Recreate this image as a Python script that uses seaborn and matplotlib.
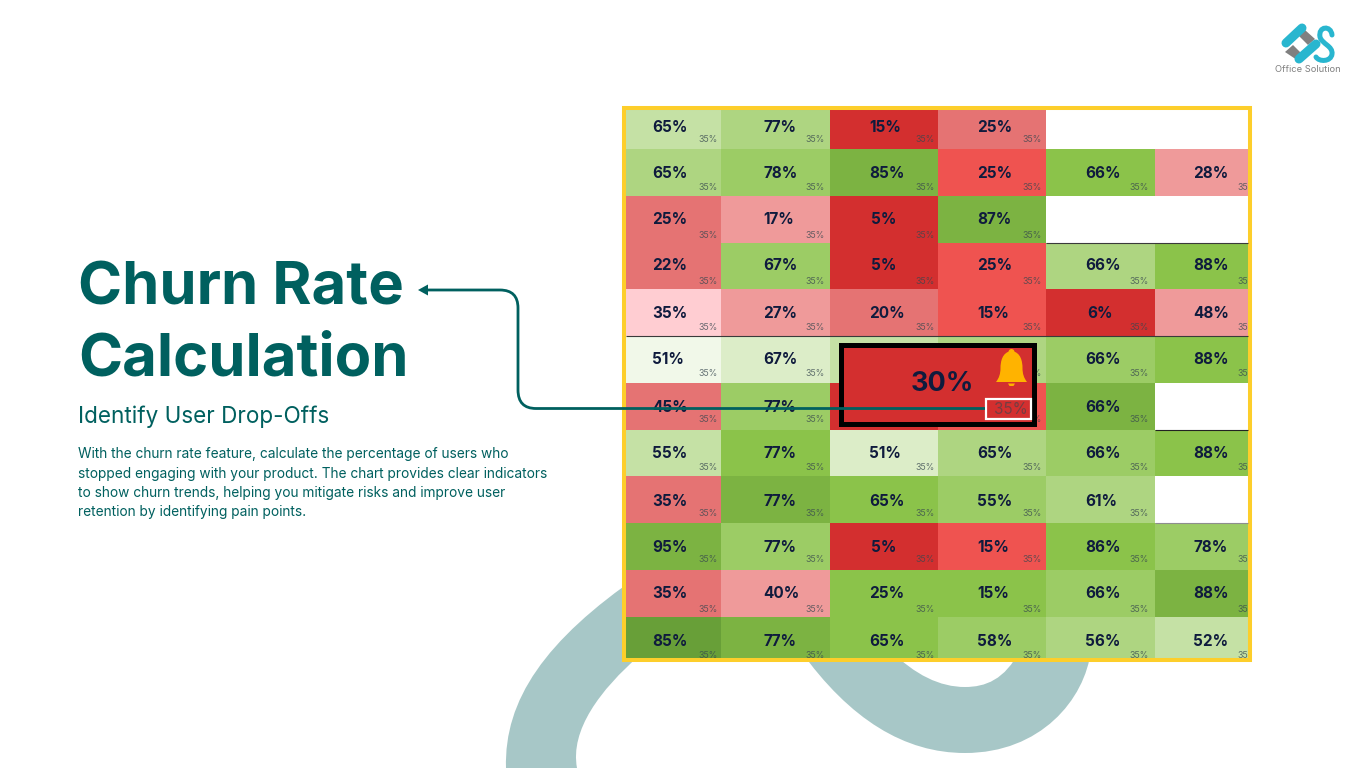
import numpy as np
import matplotlib
matplotlib.use("Agg")
import matplotlib.pyplot as plt
import seaborn as sns
from matplotlib.colors import ListedColormap
from matplotlib.patches import PathPatch, Rectangle, Polygon, Circle
from matplotlib.path import Path

W, H = 1366, 768
nan = np.nan

# Churn value per cell, nan where the cell is blank or hidden by the popup
churn_values = [
    [65, 77, 15, 25, nan, nan],
    [65, 78, 85, 25, 66, 28],
    [25, 17, 5, 87, nan, nan],
    [22, 67, 5, 25, 66, 88],
    [35, 27, 20, 15, 6, 48],
    [51, 67, nan, nan, 66, 88],
    [45, 77, nan, nan, 66, nan],
    [55, 77, 51, 65, 66, 88],
    [35, 77, 65, 55, 61, nan],
    [95, 77, 5, 15, 86, 78],
    [35, 40, 25, 15, 66, 88],
    [85, 77, 65, 58, 56, 52],
]

# Colour level per cell (index into palette), nan = white cell
color_levels = [
    [7, 8, 0, 2, nan, nan],
    [8, 9, 11, 1, 10, 3],
    [2, 3, 0, 11, nan, nan],
    [2, 9, 0, 1, 8, 10],
    [4, 3, 2, 1, 0, 3],
    [5, 6, 7, 8, 9, 10],
    [2, 9, 0, 1, 11, nan],
    [7, 10, 6, 8, 9, 10],
    [2, 11, 10, 9, 8, nan],
    [11, 9, 0, 1, 10, 9],
    [2, 3, 10, 10, 9, 11],
    [12, 11, 10, 9, 8, 7],
]

palette = ["#D32F2F", "#EF5350", "#E57373", "#EF9A9A", "#FFCDD2", "#F1F8E9", "#DCEDC8",
           "#C5E1A5", "#AED581", "#9CCC65", "#8BC34A", "#7CB342", "#689F38"]

small_label = "35%"
popup_value = "30%"
title_lines = ["Churn Rate", "Calculation"]
subtitle = "Identify User Drop-Offs"
body_lines = [
    "With the churn rate feature, calculate the percentage of users who",
    "stopped engaging with your product. The chart provides clear indicators",
    "to show churn trends, helping you mitigate risks and improve user",
    "retention by identifying pain points.",
]

# Pixel layout of the grid
col_edges = [626, 721, 830, 938, 1046, 1155, 1248]
row_edges = [110, 149, 196, 243, 289, 336, 383, 430, 476, 523, 570, 617, 658]
main_x = [652, 763, 869, 977, 1085, 1193]
main_y = [127, 173, 220, 266, 313, 360, 407, 454, 501, 547, 594, 641]
small_x = [698.5, 805.5, 915.5, 1022.5, 1129.5, 1237.5]
small_y = [140, 187, 235, 281, 327, 374, 420, 467, 513, 560, 610, 656]
covered_small = [(5, 2), (6, 2)]  # sit fully under the popup

TEAL = "#00605F"
NAVY = "#0F1B3D"
BLOB = "#A7C7C7"
YELLOW = "#FDCE2B"
LOGO = "#29B6CF"

sns.set_theme(style="white")
plt.rcParams["font.family"] = ["Inter", "DejaVu Sans"]

fig = plt.figure(figsize=(W / 100, H / 100), dpi=100, facecolor="white")


def px_axes(zorder):
    ax = fig.add_axes([0, 0, 1, 1], zorder=zorder)
    ax.set_xlim(0, W)
    ax.set_ylim(H, 0)
    ax.axis("off")
    return ax


def curve(points):
    # first point is a move, then groups of three are cubic beziers
    codes = [Path.MOVETO] + [Path.CURVE4] * (len(points) - 1)
    return Path(points, codes)


# Background ribbon
bg = px_axes(0)
left_ribbon = [(506, 768), (504, 700), (545, 640), (640, 575), (660, 600), (650, 650), (640, 655),
               (600, 690), (570, 730), (577, 768), (550, 768), (530, 768), (506, 768)]
bg.add_patch(PathPatch(curve(left_ribbon), fc=BLOB, ec="none"))
right_ribbon = [(800, 650), (850, 720), (905, 753), (965, 753), (1040, 753), (1085, 700), (1091, 650),
                (1060, 650), (1040, 650), (1020, 650), (1005, 680), (985, 687), (965, 687),
                (940, 687), (915, 675), (890, 650), (860, 650), (830, 650), (800, 650)]
bg.add_patch(PathPatch(curve(right_ribbon), fc=BLOB, ec="none"))

# Heatmap, the cell widths are not equal so both axes go through a piecewise scale
ax = fig.add_axes([col_edges[0] / W, 1 - row_edges[-1] / H,
                   (col_edges[-1] - col_edges[0]) / W, (row_edges[-1] - row_edges[0]) / H], zorder=1)
levels = np.array(color_levels, dtype=float)
sns.heatmap(levels, ax=ax, cmap=ListedColormap(palette), vmin=-0.5, vmax=12.5, cbar=False,
            xticklabels=False, yticklabels=False, linewidths=0)
ax.set_facecolor("white")


def piecewise(edges):
    idx = np.arange(len(edges))
    fwd = lambda v: np.interp(np.ravel(v), idx, edges).reshape(np.shape(v))
    inv = lambda v: np.interp(np.ravel(v), edges, idx).reshape(np.shape(v))
    return fwd, inv


ax.set_xscale("function", functions=piecewise(col_edges))
ax.set_yscale("function", functions=piecewise(row_edges))
ax.set_xlim(0, len(col_edges) - 1)
ax.set_ylim(len(row_edges) - 1, 0)
ax.set_xticks([])
ax.set_yticks([])
ax.minorticks_off()

over = px_axes(3)

# Cell labels, clipped by the heatmap axes
for r, row in enumerate(churn_values):
    for c, val in enumerate(row):
        if np.isnan(levels[r][c]):
            continue
        if not np.isnan(val):
            nudge = 2 if val < 10 else 0
            ax.text(main_x[c] + nudge, main_y[r], f"{val:.0f}%", transform=over.transData, ha="left", va="center",
                    fontsize=11, fontweight="bold", color=NAVY, clip_on=True)
        if (r, c) not in covered_small:
            ax.text(small_x[c], small_y[r], small_label, transform=over.transData, ha="left", va="center",
                    fontsize=6.3, color="#37474F", alpha=0.75, clip_on=True)

# Thin dark rules left on some row edges
for y, x0, x1, col in [(335.5, 626, 1248, "#3A3A3A"), (242.5, 1046, 1248, "#3A3A3A"),
                       (429.5, 1155, 1248, "#222222"), (522.5, 1155, 1248, "#8E8E8E")]:
    over.plot([x0, x1], [y, y], color=col, lw=0.8, solid_capstyle="butt")

# Yellow frame
over.add_patch(Rectangle((624, 108), 626, 552, fc="none", ec=YELLOW, lw=2.9, joinstyle="miter"))

# Popup
over.add_patch(Rectangle((840.5, 344.5), 193, 79.5, fc=palette[0], ec="black", lw=3.6, joinstyle="miter"))
over.text(942, 384, popup_value, ha="center", va="center", fontsize=19.5, fontweight="bold", color=NAVY)

# Bell
bell = [(1011.5, 351), (1002, 352), (1000.5, 362), (1000.5, 368), (1000.5, 374), (999, 378), (996, 382),
        (1005, 382), (1018, 382), (1027, 382), (1024, 378), (1022.5, 374), (1022.5, 368),
        (1022.5, 362), (1021, 352), (1011.5, 351)]
over.add_patch(PathPatch(curve(bell), fc="#FFB300", ec="none"))
over.add_patch(Circle((1011.5, 352), 3, fc="#FFB300", ec="none"))
over.add_patch(Polygon([(1008, 383.5), (1015, 383.5), (1013.5, 386), (1009.5, 386)], fc="#FFB300", ec="none"))

# Box around the small label, arrow runs from it back to the title
over.add_patch(Rectangle((985.5, 398.5), 45, 20, fc=palette[0], ec="white", lw=1.6))
over.text(1011, 410, small_label, ha="center", va="center", fontsize=11, color="#37474F", alpha=0.6)
arrow = Path([(985, 408.5), (536, 408.5), (518, 408.5), (518, 390), (518, 308), (518, 290), (500, 290), (426, 290)],
             [Path.MOVETO, Path.LINETO, Path.CURVE3, Path.CURVE3, Path.LINETO, Path.CURVE3, Path.CURVE3, Path.LINETO])
over.add_patch(PathPatch(arrow, fc="none", ec=TEAL, lw=2.0))
over.add_patch(Polygon([(418, 290), (428, 284.5), (428, 295.5)], fc=TEAL, ec="none"))

# Left text block
over.text(78, 289, title_lines[0], ha="left", va="center", fontsize=43, fontweight="bold", color=TEAL)
over.text(78, 360, title_lines[1], ha="left", va="center", fontsize=43, fontweight="bold", color=TEAL)
over.text(78, 417, subtitle, ha="left", va="center", fontsize=16.2, color=TEAL)
for y, line in zip([454, 474, 493, 512], body_lines):
    over.text(78, y, line, ha="left", va="center", fontsize=9.9, color=TEAL)

# Logo
over.plot([1286, 1302], [43, 28], color=LOGO, lw=6.5, solid_capstyle="round")
over.plot([1299, 1316], [59, 44], color=LOGO, lw=6.5, solid_capstyle="round")
over.add_patch(Polygon([(1298, 35), (1305, 30), (1315, 39), (1308, 45)], fc="#808080", ec="none"))
over.add_patch(Polygon([(1285, 52), (1293, 45), (1303, 55), (1297, 60)], fc="#808080", ec="none"))
s_logo = [(1332, 35), (1331, 25), (1318, 26), (1320, 37), (1322, 44), (1333, 46), (1332, 54), (1331, 62), (1319, 62), (1316, 57)]
over.add_patch(PathPatch(curve(s_logo), fc="none", ec=LOGO, lw=3.6, capstyle="round"))
over.text(1308, 70, "Office Solution", ha="center", va="center", fontsize=6.7, color="#808080")

fig.savefig("out.png", dpi=100)
plt.close(fig)
